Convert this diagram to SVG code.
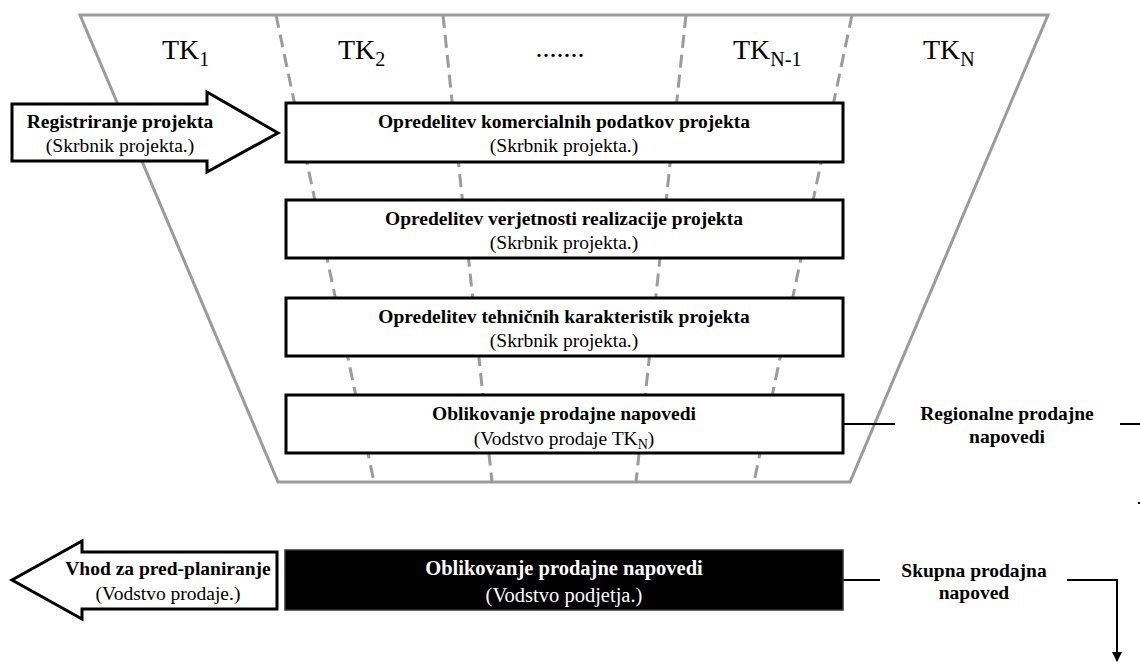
<svg xmlns="http://www.w3.org/2000/svg" width="1140" height="662" viewBox="0 0 1140 662" font-family="'Liberation Serif', 'Times New Roman', 'DejaVu Serif', serif">
  <defs>
    <marker id="arrowDown" viewBox="0 0 10 10" refX="9" refY="5" markerWidth="5" markerHeight="5" orient="auto">
      <path d="M0,0 L10,5 L0,10 z" fill="#000"/>
    </marker>
    <style>
      .frame { fill: none; stroke: #9b9b9b; stroke-width: 3; }
      .divider { fill: none; stroke: #9b9b9b; stroke-width: 3; stroke-dasharray: 13 7; }
      .box { fill: #fff; stroke: #000; stroke-width: 3; }
      .box-dark { fill: #000; stroke: #333; stroke-width: 1.5; }
      .shape { fill: #fff; stroke: #000; stroke-width: 3; stroke-linejoin: miter; }
      .link { fill: none; stroke: #000; stroke-width: 2; }
      text { font-family: 'Liberation Serif', 'Times New Roman', 'DejaVu Serif', serif; fill: #000; }
      .title { font-weight: bold; font-size: 19.5px; text-anchor: middle; }
      .sub { font-size: 19.5px; text-anchor: middle; }
      .col { font-size: 28px; }
      .dark-title { font-weight: bold; font-size: 20.5px; text-anchor: middle; fill: #fff; }
      .dark-sub { font-size: 20.5px; text-anchor: middle; fill: #fff; }
    </style>
  </defs>

  <!-- funnel outline and column dividers -->
  <g id="funnel">
    <polygon class="frame" points="80,15 1048,15 850,482 278,482"/>
    <line class="divider" x1="276" y1="15" x2="374" y2="482"/>
    <line class="divider" x1="443" y1="15" x2="492" y2="482"/>
    <line class="divider" x1="686" y1="15" x2="636" y2="482"/>
    <line class="divider" x1="852" y1="15" x2="754" y2="482"/>
  </g>

  <!-- column headings -->
  <g id="columns">
    <text class="col" x="162" y="59">TK<tspan font-size="20" dy="7">1</tspan></text>
    <text class="col" x="338" y="59">TK<tspan font-size="20" dy="7">2</tspan></text>
    <text class="col" x="560" y="57" text-anchor="middle">.......</text>
    <text class="col" x="733" y="59">TK<tspan font-size="20" dy="7">N-1</tspan></text>
    <text class="col" x="923" y="59">TK<tspan font-size="20" dy="7">N</tspan></text>
  </g>

  <!-- connectors -->
  <g id="connectors">
    <line class="link" x1="843" y1="424" x2="895" y2="424"/>
    <line class="link" x1="1120" y1="424" x2="1140" y2="424"/>
    <line class="link" x1="1139" y1="502" x2="1139" y2="504" stroke-width="1"/>
    <line class="link" x1="843" y1="580" x2="880" y2="580"/>
    <polyline class="link" points="1067,580 1117,580 1117,661" marker-end="url(#arrowDown)"/>
  </g>

  <g id="input-arrow">
    <polygon class="shape" points="12,104 207,104 207,92 278,133 207,172 207,161 12,161"/>
    <text class="title" x="120" y="128">Registriranje projekta</text>
    <text class="sub" x="120" y="152">(Skrbnik projekta.)</text>
  </g>

  <g id="step-commercial">
    <rect class="box" x="286" y="103" width="557" height="59"/>
    <text class="title" x="564" y="128">Opredelitev komercialnih podatkov projekta</text>
    <text class="sub" x="564" y="152">(Skrbnik projekta.)</text>
  </g>

  <g id="step-probability">
    <rect class="box" x="286" y="200" width="557" height="58"/>
    <text class="title" x="564" y="225">Opredelitev verjetnosti realizacije projekta</text>
    <text class="sub" x="564" y="249">(Skrbnik projekta.)</text>
  </g>

  <g id="step-technical">
    <rect class="box" x="286" y="298" width="557" height="58"/>
    <text class="title" x="564" y="323">Opredelitev tehničnih karakteristik projekta</text>
    <text class="sub" x="564" y="347">(Skrbnik projekta.)</text>
  </g>

  <g id="step-regional">
    <rect class="box" x="286" y="395" width="557" height="58"/>
    <text class="title" x="564" y="420">Oblikovanje prodajne napovedi</text>
    <text class="sub" x="564" y="445">(Vodstvo prodaje TK<tspan font-size="14" dy="4">N</tspan><tspan dy="-4">)</tspan></text>
  </g>

  <g id="label-regional">
    <text class="title" x="1007" y="420">Regionalne prodajne</text>
    <text class="title" x="1007" y="443">napovedi</text>
  </g>

  <g id="step-total">
    <rect class="box-dark" x="285" y="550" width="558" height="60"/>
    <text class="dark-title" x="564" y="575">Oblikovanje prodajne napovedi</text>
    <text class="dark-sub" x="564" y="602">(Vodstvo podjetja.)</text>
  </g>

  <g id="label-total">
    <text class="title" x="974" y="577">Skupna prodajna</text>
    <text class="title" x="974" y="599">napoved</text>
  </g>

  <g id="output-arrow">
    <polygon class="shape" points="277,552 82,552 82,541 12,580 82,619 82,609 277,609"/>
    <text class="title" x="168" y="575">Vhod za pred-planiranje</text>
    <text class="sub" x="168" y="600">(Vodstvo prodaje.)</text>
  </g>
</svg>
